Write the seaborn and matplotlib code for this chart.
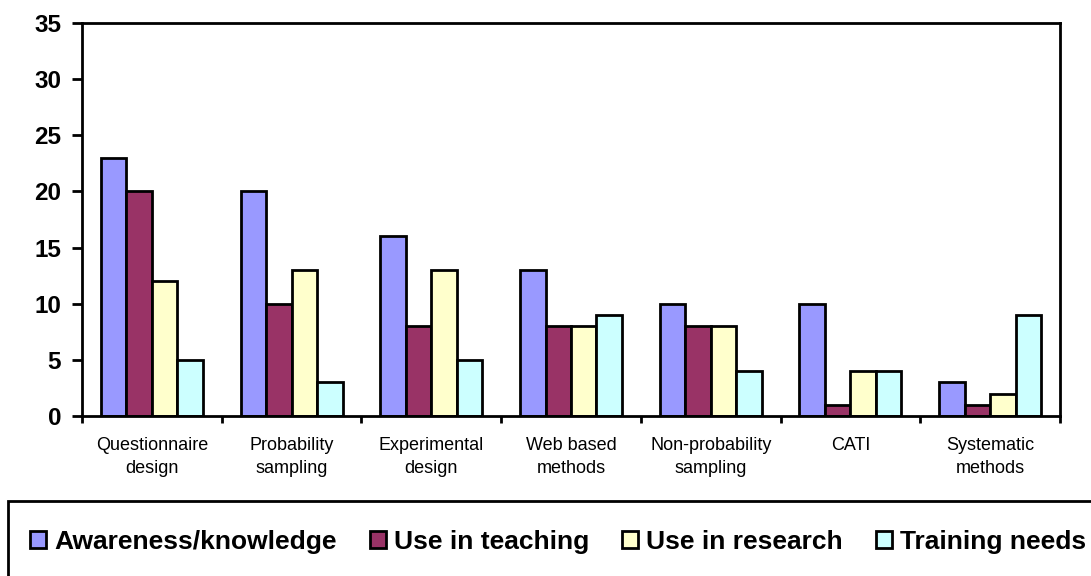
import matplotlib
matplotlib.use("Agg")
import matplotlib.pyplot as plt
import seaborn as sns
import pandas as pd
from matplotlib.patches import Rectangle, Patch

categories = ["Questionnaire\ndesign", "Probability\nsampling", "Experimental\ndesign",
              "Web based\nmethods", "Non-probability\nsampling", "CATI", "Systematic\nmethods"]
series = ["Awareness/knowledge", "Use in teaching", "Use in research", "Training needs"]
awareness = [23, 20, 16, 13, 10, 10, 3]
teaching = [20, 10, 8, 8, 8, 1, 1]
research = [12, 13, 13, 8, 8, 4, 2]
training = [5, 3, 5, 9, 4, 4, 9]
colors = ["#9999FF", "#993366", "#FFFFCC", "#CCFFFF"]
yticks = [0, 5, 10, 15, 20, 25, 30, 35]

rows = []
for s, vals in zip(series, [awareness, teaching, research, training]):
    for c, v in zip(categories, vals):
        rows.append({"category": c, "series": s, "value": v})
df = pd.DataFrame(rows)

sns.set_theme(style="white")
plt.rcParams["font.family"] = ["Liberation Sans", "DejaVu Sans"]
plt.rcParams["text.color"] = "black"
plt.rcParams["xtick.color"] = "black"
plt.rcParams["ytick.color"] = "black"
plt.rcParams["axes.labelcolor"] = "black"

fig = plt.figure(figsize=(10.91, 5.76), dpi=100)
ax = fig.add_axes([82/1091, 1-416/576, (1060-82)/1091, (416-23)/576])

sns.barplot(data=df, x="category", y="value", hue="series", order=categories,
            hue_order=series, palette=colors, width=0.73, edgecolor="black",
            linewidth=2, saturation=1, ax=ax, legend=False)

ax.set_xlim(-0.5, len(categories) - 0.5)
ax.set_ylim(0, 35)
ax.set_yticks(yticks)
ax.set_yticklabels([str(t) for t in yticks], fontsize=17.5, fontweight="bold")
ax.tick_params(axis="y", direction="out", length=7, width=2, pad=8, left=True, colors="black")
ax.set_xticks([i - 0.5 for i in range(len(categories) + 1)])
ax.set_xticklabels([])
ax.set_xticks(range(len(categories)), minor=True)
ax.set_xticklabels(categories, minor=True, fontsize=13, linespacing=1.45)
ax.tick_params(axis="x", which="major", direction="out", length=5, width=2, bottom=True, colors="black")
ax.tick_params(axis="x", which="minor", length=0, pad=15, colors="black")
ax.set_xlabel("")
ax.set_ylabel("")
for sp in ax.spines.values():
    sp.set_visible(True)
    sp.set_color("black")
    sp.set_linewidth(2)

# legend box
fig.patches.append(Rectangle((8/1091, -0.1), 1.1, 1-501/576 + 0.1, transform=fig.transFigure,
                             fill=False, edgecolor="black", linewidth=2, clip_on=False))
handles = [Patch(facecolor=c, edgecolor="black", linewidth=2) for c in colors]
leg = fig.legend(handles, series, loc="center left", bbox_to_anchor=(6/1091, 1-542/576),
                 ncol=4, frameon=False, handlelength=0.62, handleheight=0.62,
                 handletextpad=0.3, columnspacing=1.25,
                 prop={"size": 19, "weight": "bold"})

fig.savefig("out.png", dpi=100)
